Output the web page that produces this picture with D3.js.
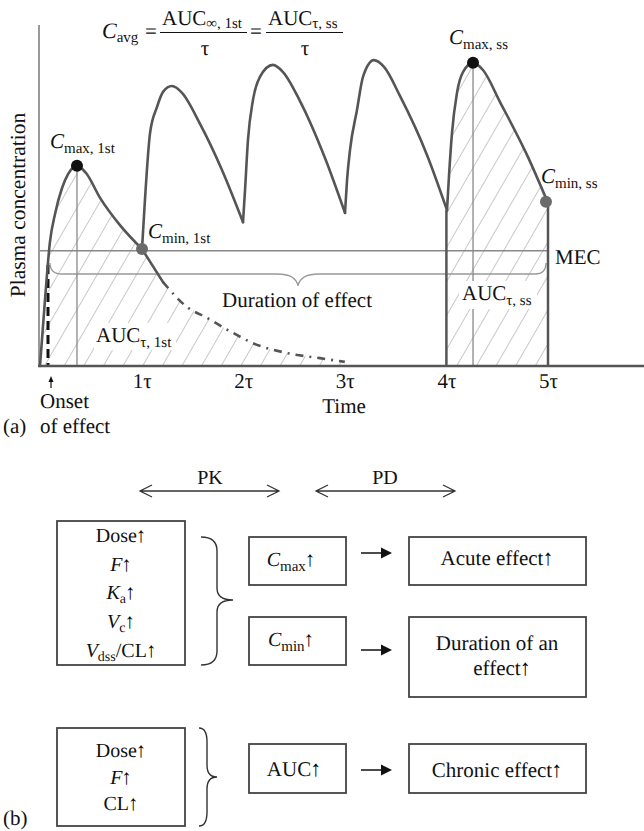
<!DOCTYPE html>
<html><head><meta charset="utf-8">
<script src="https://cdn.jsdelivr.net/npm/d3@7/dist/d3.min.js"></script>
<style>
body{margin:0;background:#fff}
svg{display:block}
text{font-family:"Liberation Serif","Times New Roman",serif;fill:#111;text-rendering:geometricPrecision}
</style>
</head><body>
<svg id="c" width="644" height="831"></svg>
<script>
// ---------------- DATA (time in τ units, concentration in arbitrary units) ----------------
const tickTimes  = [1, 2, 3, 4, 5];
const tickLabels = ["1τ", "2τ", "3τ", "4τ", "5τ"];

// single dose: absorption + decline to first trough (solid)
const singleT = [0, 0.049, 0.098, 0.148, 0.217, 0.276, 0.364, 0.453, 0.591, 0.787, 1.004];
const singleC = [0, 19.4, 36.4, 44.6, 52.2, 56.3, 58.7, 56.6, 49.3, 41.3, 34.3];
// single dose: continued elimination (dash-dot)
const decayT = [1.004, 1.211, 1.447, 1.644, 1.9, 2.096, 2.431, 2.756, 3.0];
const decayC = [34.3, 24.6, 17.3, 14.1, 9.7, 6.7, 3.8, 2.3, 1.2];

// repeated dosing intervals
const int2T = [1.004, 1.033, 1.083, 1.152, 1.211, 1.299, 1.398, 1.575, 1.791, 1.998];
const int2C = [34.3, 48.7, 68.3, 76.0, 80.4, 82.1, 80.1, 71.0, 57.5, 42.2];
const int3T = [1.998, 2.018, 2.047, 2.096, 2.165, 2.293, 2.392, 2.559, 2.805, 3.002];
const int3C = [42.2, 51.6, 66.3, 78.0, 84.8, 88.3, 86.2, 77.7, 61.0, 44.9];
const int4T = [3.002, 3.022, 3.051, 3.12, 3.179, 3.287, 3.386, 3.543, 3.809, 4.006];
const int4C = [44.9, 54.5, 63.3, 75.1, 84.8, 89.7, 87.7, 79.2, 61.9, 45.7];
const int5T = [4.006, 4.026, 4.055, 4.104, 4.163, 4.262, 4.36, 4.528, 4.793, 5.0];
const int5C = [45.7, 56.0, 68.3, 80.1, 86.2, 88.9, 86.8, 77.4, 61.9, 47.8];

const MEC = 33.8;
const cmax1 = [0.364, 58.7];
const cmin1 = [1.004, 34.3];
const cmaxSS = [4.262, 88.9];
const cminSS = [4.98, 48.2];

// panel (b) texts
const pkLabels = ["PK", "PD"];
const box1Lines = [[["Dose↑"]], [["F","i"],["↑"]], [["K","i"],["a","s"],["↑"]], [["V","i"],["c","s"],["↑"]], [["V","i"],["dss","s"],["/CL↑"]]];
const box2Lines = [[["Dose↑"]], [["F","i"],["↑"]], [["CL↑"]]];

// ---------------- DRAW ----------------
const svg = d3.select("#c");
const x = d3.scaleLinear().domain([0, 5]).range([40, 548]);
const y = d3.scaleLinear().domain([0, 100]).range([366, 25]);
const zip = (T, C) => T.map((t, i) => [t, C[i]]);
const line = d3.line().x(d => x(d[0])).y(d => y(d[1])).curve(d3.curveMonotoneX);
const area = d3.area().x(d => x(d[0])).y0(y(0)).y1(d => y(d[1])).curve(d3.curveMonotoneX);
const FS = 21, SUB = 15;

function rich(g, px, py, parts, opt = {}) {
  const size = opt.size || FS;
  const t = g.append("text").attr("x", px).attr("y", py)
    .attr("font-size", size).attr("text-anchor", opt.anchor || "start");
  let shift = 0;
  parts.forEach(p => {
    const s = p[1] === "s";
    const target = s ? (opt.subDy || 5) : 0;
    const pieces = p[0].split(/(↑)/).filter(q => q.length);
    pieces.forEach((q, k) => {
      const ts = t.append("tspan").text(q);
      if (k === 0) { ts.attr("dy", target - shift); shift = target; }
      if (s) ts.attr("font-size", opt.subSize || SUB);
      if (p[1] === "i") ts.attr("font-style", "italic");
      if (q === "↑") ts.attr("font-size", size * 1.05).attr("dx", -1).attr("fill", "#000");
    });
  });
  return t;
}

const defs = svg.append("defs");
const pat = defs.append("pattern").attr("id", "hatch").attr("patternUnits", "userSpaceOnUse")
  .attr("width", 17).attr("height", 17).attr("patternTransform", "rotate(30)");
pat.append("line").attr("x1", 0).attr("y1", 0).attr("x2", 0).attr("y2", 17)
  .attr("stroke", "#9a9a9a").attr("stroke-width", 1.1);

const g = svg.append("g");

// hatched AUC areas
g.append("path").datum(zip(singleT, singleC).concat(zip(decayT, decayC).slice(1)))
  .attr("d", area).attr("fill", "url(#hatch)");
g.append("path").datum(zip(int5T, int5C)).attr("d", area).attr("fill", "url(#hatch)");

// MEC line
g.append("line").attr("x1", 39).attr("x2", x(5)).attr("y1", y(MEC)).attr("y2", y(MEC))
  .attr("stroke", "#888").attr("stroke-width", 1.3);

// duration brace
const by = 274;
g.append("path").attr("d",
  `M50,263 Q50,${by} 62,${by} L277,${by} Q296,${by} 298,286 Q300,${by} 319,${by} L535,${by} Q546,${by} 546,263`)
  .attr("fill", "none").attr("stroke", "#999").attr("stroke-width", 1.3);

// vertical thin lines under Cmax points
g.append("line").attr("x1", x(cmax1[0])).attr("x2", x(cmax1[0])).attr("y1", y(cmax1[1])).attr("y2", y(0))
  .attr("stroke", "#888").attr("stroke-width", 1.3);
g.append("line").attr("x1", x(cmaxSS[0])).attr("x2", x(cmaxSS[0])).attr("y1", y(cmaxSS[1])).attr("y2", y(0))
  .attr("stroke", "#888").attr("stroke-width", 1.3);

// onset dashed line
g.append("line").attr("x1", 48).attr("x2", 48).attr("y1", 265).attr("y2", y(0))
  .attr("stroke", "#111").attr("stroke-width", 3).attr("stroke-dasharray", "9,5");

// 4τ and 5τ vertical boundaries
g.append("line").attr("x1", x(4)).attr("x2", x(4)).attr("y1", y(int4C[int4C.length - 1])).attr("y2", y(0))
  .attr("stroke", "#555").attr("stroke-width", 2.5);
g.append("line").attr("x1", x(5)).attr("x2", x(5)).attr("y1", y(int5C[int5C.length - 1])).attr("y2", y(0))
  .attr("stroke", "#555").attr("stroke-width", 2.5);

// axes
g.append("line").attr("x1", 39).attr("x2", 39).attr("y1", 25).attr("y2", y(0))
  .attr("stroke", "#999").attr("stroke-width", 2);
g.append("line").attr("x1", 38).attr("x2", 644).attr("y1", y(0)).attr("y2", y(0))
  .attr("stroke", "#555").attr("stroke-width", 2.5);
const ax = g.append("g").attr("transform", `translate(0,${y(0)})`)
  .call(d3.axisBottom(x).tickValues(tickTimes).tickSize(0).tickPadding(8)
    .tickFormat((d, i) => tickLabels[i]));
ax.select(".domain").remove();
ax.selectAll("text").attr("font-size", FS).attr("fill", "#111")
  .attr("font-family", '"Liberation Serif",serif').attr("dy", 0).attr("y", 22);

// curves
const curveStyle = s => s.attr("fill", "none").attr("stroke", "#555").attr("stroke-width", 2.6)
  .attr("stroke-linejoin", "round").attr("stroke-linecap", "round");
curveStyle(g.append("path").datum(zip(singleT, singleC)).attr("d", line));
curveStyle(g.append("path").datum(zip(decayT, decayC).slice(0, 2)).attr("d", line));
curveStyle(g.append("path").datum(zip(decayT, decayC).slice(1)).attr("d", line))
  .attr("stroke-dasharray", "8,6,2,6").attr("stroke-linecap", "butt");
[[int2T, int2C], [int3T, int3C], [int4T, int4C], [int5T, int5C]].forEach(([T, C]) =>
  curveStyle(g.append("path").datum(zip(T, C)).attr("d", line)));

// points
g.append("circle").attr("cx", x(cmax1[0])).attr("cy", y(cmax1[1])).attr("r", 6).attr("fill", "#111");
g.append("circle").attr("cx", x(cmaxSS[0])).attr("cy", y(cmaxSS[1])).attr("r", 6).attr("fill", "#111");
g.append("circle").attr("cx", x(cmin1[0])).attr("cy", y(cmin1[1])).attr("r", 6).attr("fill", "#6a6a6a");
g.append("circle").attr("cx", x(cminSS[0])).attr("cy", y(cminSS[1])).attr("r", 6).attr("fill", "#6a6a6a");

// labels with white backing
g.append("rect").attr("x", 94).attr("y", 323).attr("width", 82).attr("height", 27).attr("fill", "#fff");
g.append("rect").attr("x", 459).attr("y", 281).attr("width", 78).attr("height", 28).attr("fill", "#fff");
rich(g, 96, 342, [["AUC"], ["τ, 1st", "s"]]);
rich(g, 462, 300, [["AUC"], ["τ, ss", "s"]]);
rich(g, 50, 148, [["C", "i"], ["max, 1st", "s"]]);
rich(g, 148, 238, [["C", "i"], ["min, 1st", "s"]]);
rich(g, 449, 44, [["C", "i"], ["max, ss", "s"]]);
rich(g, 541, 183, [["C", "i"], ["min, ss", "s"]]);
rich(g, 555, 264, [["MEC"]]);
rich(g, 297, 307, [["Duration of effect"]], { anchor: "middle" });
rich(g, 344, 413, [["Time"]], { anchor: "middle" });
rich(g, 40, 408, [["Onset"]]);
rich(g, 40, 433, [["of effect"]]);
rich(g, 3, 433, [["(a)"]]);
g.append("text").attr("transform", "translate(25,205) rotate(-90)").attr("text-anchor", "middle")
  .attr("font-size", FS + 0.5).text("Plasma concentration");
// onset arrow
g.append("line").attr("x1", 51).attr("x2", 51).attr("y1", 388).attr("y2", 380).attr("stroke", "#111").attr("stroke-width", 1.2);
g.append("path").attr("d", "M51,376 L48.5,382 L53.5,382 Z").attr("fill", "#111");

// formula
rich(g, 102, 38, [["C", "i"], ["avg", "s"]], { subDy: 4, size: 22 });
rich(g, 145, 38, [["="]]);
rich(g, 162, 25, [["AUC"], ["∞, 1st", "s"]], { subDy: 3 });
g.append("line").attr("x1", 160).attr("x2", 247).attr("y1", 32.5).attr("y2", 32.5).attr("stroke", "#111").attr("stroke-width", 1.2);
rich(g, 205, 55, [["τ"]], { anchor: "middle" });
rich(g, 250, 38, [["="]]);
rich(g, 268, 25, [["AUC"], ["τ, ss", "s"]], { subDy: 3 });
g.append("line").attr("x1", 266).attr("x2", 343).attr("y1", 32.5).attr("y2", 32.5).attr("stroke", "#111").attr("stroke-width", 1.2);
rich(g, 305, 55, [["τ"]], { anchor: "middle" });

// ---------------- PANEL (b) ----------------
const b = svg.append("g");
const BS = 20;
function dblArrow(x1, x2, yy) {
  b.append("path").attr("d",
    `M${x1 + 12},${yy - 6} L${x1},${yy} L${x1 + 12},${yy + 6} M${x1},${yy} L${x2},${yy} M${x2 - 12},${yy - 6} L${x2},${yy} L${x2 - 12},${yy + 6}`)
    .attr("fill", "none").attr("stroke", "#333").attr("stroke-width", 1.3);
}
dblArrow(140, 279, 491);
dblArrow(316, 455, 491);
rich(b, 210, 484, [[pkLabels[0]]], { anchor: "middle", size: 20 });
rich(b, 385, 484, [[pkLabels[1]]], { anchor: "middle", size: 20 });

function box(x0, y0, w, h) {
  b.append("rect").attr("x", x0).attr("y", y0).attr("width", w).attr("height", h)
    .attr("fill", "none").attr("stroke", "#444").attr("stroke-width", 1.8);
}
function arrow(x1, x2, yy) {
  b.append("line").attr("x1", x1).attr("x2", x2 - 9).attr("y1", yy).attr("y2", yy).attr("stroke", "#111").attr("stroke-width", 1.5);
  b.append("path").attr("d", `M${x2},${yy} L${x2 - 11},${yy - 5.5} L${x2 - 11},${yy + 5.5} Z`).attr("fill", "#111");
}
function brace(x0, xm, xt, y0, yt, y1) {
  b.append("path").attr("d",
    `M${x0},${y0} Q${xm},${y0} ${xm},${y0 + 14} L${xm},${yt - 12} Q${xm},${yt} ${xt},${yt} Q${xm},${yt} ${xm},${yt + 12} L${xm},${y1 - 14} Q${xm},${y1} ${x0},${y1}`)
    .attr("fill", "none").attr("stroke", "#333").attr("stroke-width", 1.4);
}

box(57, 521, 128, 144);
box1Lines.forEach((ln, i) => rich(b, 121, 542 + i * 28.7, ln, { anchor: "middle", size: BS, subSize: 14, subDy: 4 }));
brace(201, 217, 233, 537, 600, 665);
box(249, 537, 97, 48);
rich(b, 291, 566, [["C", "i"], ["max", "s"], ["↑"]], { anchor: "middle", size: BS });
box(249, 617, 97, 48);
rich(b, 291, 646, [["C", "i"], ["min", "s"], ["↑"]], { anchor: "middle", size: BS });
arrow(361, 392, 553);
arrow(361, 392, 650);
box(409, 537, 177, 48);
rich(b, 497, 565, [["Acute effect↑"]], { anchor: "middle", size: BS + 1 });
box(409, 617, 177, 80);
rich(b, 497, 650, [["Duration of an"]], { anchor: "middle", size: BS + 1 });
rich(b, 502, 675, [["effect↑"]], { anchor: "middle", size: BS + 1 });

box(57, 728, 128, 98);
box2Lines.forEach((ln, i) => rich(b, 121, 757 + i * 26.5, ln, { anchor: "middle", size: BS }));
brace(199, 207, 217, 728, 777, 826);
box(249, 744, 97, 49);
rich(b, 294, 776, [["AUC↑"]], { anchor: "middle", size: BS + 1 });
arrow(361, 392, 770);
box(409, 744, 177, 49);
rich(b, 497, 777, [["Chronic effect↑"]], { anchor: "middle", size: BS + 1 });
rich(b, 3, 825, [["(b)"]]);
</script>
</body></html>
